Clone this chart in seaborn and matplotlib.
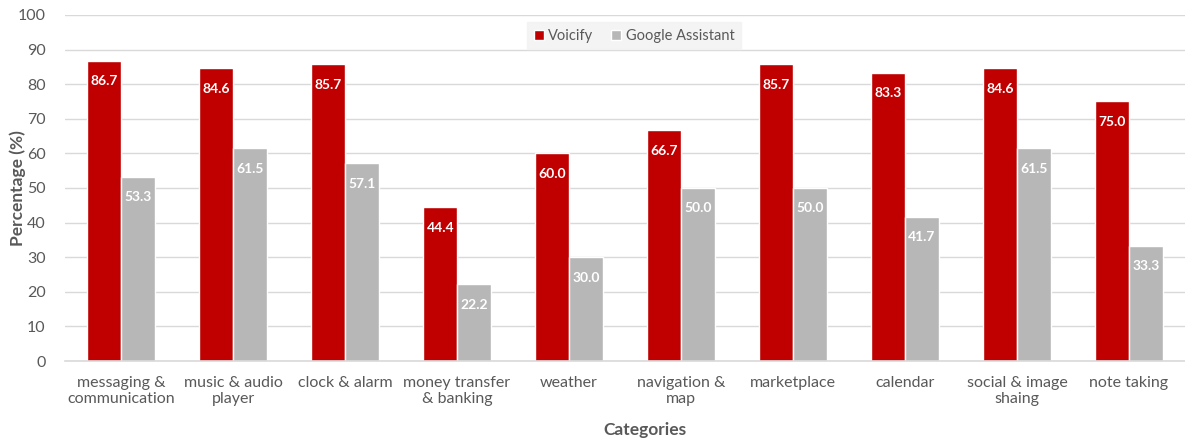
import pandas as pd
import matplotlib.pyplot as plt
import seaborn as sns

# data
categories = ['messaging &\ncommunication', 'music & audio\nplayer', 'clock & alarm',
              'money transfer\n& banking', 'weather', 'navigation &\nmap', 'marketplace',
              'calendar', 'social & image\nshaing', 'note taking']
voicify = [86.7, 84.6, 85.7, 44.4, 60.0, 66.7, 85.7, 83.3, 84.6, 75.0]
google = [53.3, 61.5, 57.1, 22.2, 30.0, 50.0, 50.0, 41.7, 61.5, 33.3]
series = ['Voicify', 'Google Assistant']

df = pd.DataFrame({
    'Category': categories * 2,
    'Value': voicify + google,
    'Assistant': [series[0]] * len(categories) + [series[1]] * len(categories),
})

sns.set_style("white")
plt.rcParams['font.family'] = ['Lato', 'DejaVu Sans']
txt = '#595959'

fig = plt.figure(figsize=(11.85, 4.4), dpi=100)
ax = fig.add_axes([0.0549, 0.1795, 0.9451, 0.7865])

sns.barplot(data=df, x='Category', y='Value', hue='Assistant', hue_order=series,
            palette=['#C00000', '#B7B7B7'], width=0.6, ax=ax, saturation=1)

for cont in ax.containers:
    labels = [f'{b.get_height():.1f}' for b in cont]
    ax.bar_label(cont, labels=labels, padding=-19, color='white',
                 fontsize=10, fontweight='bold')

ax.set_ylim(0, 100)
ax.set_xlim(-0.5, len(categories) - 0.5)
ax.set_yticks(range(0, 101, 10))
ax.yaxis.grid(True, color='#D9D9D9', linewidth=1)
ax.set_axisbelow(True)
for s in ['top', 'right', 'left']:
    ax.spines[s].set_visible(False)
ax.spines['bottom'].set_color('#D9D9D9')
ax.spines['bottom'].set_linewidth(1.2)
ax.tick_params(axis='both', length=0, labelsize=11.5, colors=txt, pad=11)
ax.tick_params(axis='y', pad=14)

ax.set_xlabel('Categories', fontsize=12.5, fontweight='bold', color=txt)
ax.set_ylabel('Percentage (%)', fontsize=12.5, fontweight='bold', color=txt)
ax.xaxis.set_label_coords(0.518, -0.2)
ax.yaxis.set_label_coords(-0.042, 0.5)
ax.xaxis.label.set_va('center')
ax.yaxis.label.set_va('center')

leg = ax.legend(loc='upper center', bbox_to_anchor=(0.508, 1.0), ncol=2,
                frameon=True, fontsize=10.5, handlelength=0.7, handleheight=0.7,
                handletextpad=0.3, columnspacing=1.2, borderpad=0.45)
leg.get_frame().set_facecolor('#F2F2F2')
leg.get_frame().set_edgecolor('#F2F2F2')
leg.get_frame().set_boxstyle('square', pad=0)
for t in leg.get_texts():
    t.set_color(txt)

plt.savefig('out.png', dpi=100)
